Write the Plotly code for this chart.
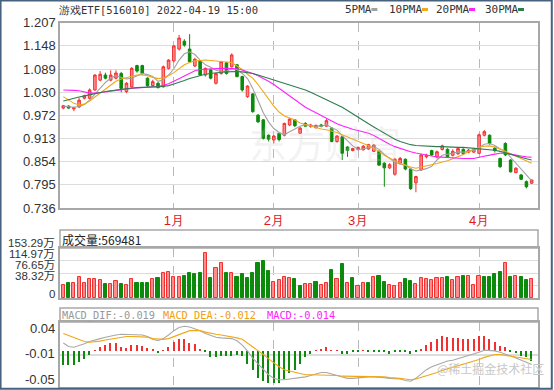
import plotly.graph_objects as go

# ---------------- data ----------------
day_index = list(range(90))
month_ticks = [21, 40, 56, 79]
month_labels = ["1月", "2月", "3月", "4月"]

open_ = [0.990, 0.995, 0.988, 0.993, 1.015, 1.015, 1.036, 1.061, 1.074, 1.061,
         1.066, 1.078, 1.032, 1.044, 1.098, 1.098, 1.066, 1.047, 1.053, 1.044,
         1.091, 1.110, 1.140, 1.160, 1.140, 1.097, 1.110, 1.074, 1.087, 1.053,
         1.078, 1.105, 1.095, 1.100, 1.070, 1.019, 1.026, 0.972, 0.960, 0.921,
         0.909, 0.926, 0.921, 0.947, 0.960, 0.926, 0.951, 0.943, 0.940, 0.947,
         0.944, 0.939, 0.905, 0.917, 0.891, 0.882, 0.885, 0.884, 0.886, 0.880,
         0.880, 0.850, 0.838, 0.822, 0.850, 0.860, 0.835, 0.800, 0.833, 0.866,
         0.882, 0.866, 0.885, 0.885, 0.870, 0.874, 0.885, 0.878, 0.878, 0.875,
         0.921, 0.921, 0.888, 0.862, 0.900, 0.858, 0.826, 0.820, 0.803, 0.799]
high = [0.998, 0.997, 0.993, 1.016, 1.024, 1.040, 1.076, 1.084, 1.080, 1.086,
        1.086, 1.082, 1.056, 1.094, 1.100, 1.100, 1.068, 1.062, 1.056, 1.098,
        1.114, 1.150, 1.176, 1.165, 1.178, 1.118, 1.112, 1.093, 1.090, 1.080,
        1.110, 1.107, 1.129, 1.102, 1.072, 1.048, 1.028, 0.975, 0.962, 0.923,
        0.921, 0.928, 0.953, 0.965, 0.962, 0.942, 0.954, 0.950, 0.948, 0.950,
        0.962, 0.941, 0.921, 0.919, 0.893, 0.889, 0.892, 0.896, 0.899, 0.898,
        0.882, 0.852, 0.850, 0.863, 0.866, 0.862, 0.838, 0.818, 0.873, 0.874,
        0.884, 0.882, 0.897, 0.888, 0.885, 0.890, 0.888, 0.886, 0.889, 0.925,
        0.934, 0.923, 0.892, 0.864, 0.903, 0.860, 0.840, 0.822, 0.806, 0.809]
low = [0.987, 0.988, 0.982, 0.990, 1.012, 1.012, 1.034, 1.058, 1.063, 1.058,
       1.063, 1.030, 1.028, 1.042, 1.080, 1.074, 1.044, 1.044, 1.040, 1.042,
       1.088, 1.106, 1.136, 1.146, 1.105, 1.094, 1.072, 1.070, 1.063, 1.050,
       1.075, 1.075, 1.093, 1.068, 1.032, 1.016, 0.978, 0.952, 0.910, 0.905,
       0.900, 0.905, 0.918, 0.944, 0.942, 0.924, 0.942, 0.940, 0.938, 0.941,
       0.942, 0.903, 0.902, 0.858, 0.866, 0.880, 0.882, 0.882, 0.884, 0.878,
       0.843, 0.790, 0.835, 0.818, 0.846, 0.832, 0.782, 0.776, 0.830, 0.862,
       0.868, 0.862, 0.882, 0.863, 0.867, 0.871, 0.871, 0.875, 0.876, 0.873,
       0.918, 0.897, 0.877, 0.838, 0.868, 0.826, 0.824, 0.807, 0.786, 0.797]
close = [0.996, 0.990, 0.991, 1.010, 1.021, 1.036, 1.074, 1.076, 1.066, 1.074,
         1.079, 1.040, 1.053, 1.091, 1.084, 1.078, 1.047, 1.057, 1.042, 1.095,
         1.112, 1.148, 1.168, 1.150, 1.108, 1.114, 1.074, 1.091, 1.066, 1.078,
         1.108, 1.078, 1.125, 1.070, 1.036, 1.046, 0.981, 0.955, 0.913, 0.911,
         0.919, 0.910, 0.951, 0.962, 0.945, 0.939, 0.944, 0.947, 0.946, 0.944,
         0.958, 0.905, 0.919, 0.875, 0.882, 0.887, 0.890, 0.893, 0.897, 0.896,
         0.845, 0.838, 0.846, 0.860, 0.862, 0.835, 0.785, 0.816, 0.871, 0.870,
         0.871, 0.879, 0.894, 0.866, 0.880, 0.887, 0.874, 0.883, 0.886, 0.922,
         0.930, 0.900, 0.882, 0.841, 0.871, 0.828, 0.837, 0.809, 0.790, 0.807]

ma5 = [0.995, 0.993, 0.992, 0.994, 0.999, 1.010, 1.025, 1.042, 1.055, 1.066,
       1.073, 1.068, 1.064, 1.066, 1.072, 1.078, 1.075, 1.070, 1.058, 1.062,
       1.074, 1.090, 1.112, 1.128, 1.133, 1.126, 1.112, 1.100, 1.094, 1.086,
       1.083, 1.084, 1.090, 1.088, 1.078, 1.065, 1.040, 1.010, 0.978, 0.955,
       0.938, 0.928, 0.922, 0.930, 0.938, 0.944, 0.948, 0.946, 0.944, 0.944,
       0.948, 0.940, 0.934, 0.920, 0.906, 0.894, 0.885, 0.886, 0.890, 0.892,
       0.885, 0.872, 0.862, 0.852, 0.848, 0.845, 0.836, 0.830, 0.833, 0.836,
       0.842, 0.858, 0.870, 0.873, 0.876, 0.878, 0.878, 0.880, 0.882, 0.890,
       0.898, 0.900, 0.895, 0.886, 0.880, 0.865, 0.850, 0.834, 0.818, 0.805]
ma10 = [1.019, 1.010, 1.002, 0.998, 1.000, 1.008, 1.018, 1.028, 1.038, 1.048,
        1.058, 1.064, 1.068, 1.071, 1.074, 1.074, 1.072, 1.068, 1.065, 1.067,
        1.072, 1.080, 1.090, 1.100, 1.106, 1.110, 1.111, 1.112, 1.111, 1.110,
        1.109, 1.108, 1.106, 1.097, 1.088, 1.076, 1.066, 1.050, 1.032, 1.012,
        0.995, 0.980, 0.970, 0.965, 0.960, 0.952, 0.948, 0.945, 0.941, 0.937,
        0.935, 0.932, 0.928, 0.922, 0.916, 0.910, 0.905, 0.900, 0.895, 0.888,
        0.880, 0.870, 0.862, 0.856, 0.850, 0.845, 0.840, 0.837, 0.840, 0.842,
        0.845, 0.849, 0.853, 0.856, 0.861, 0.866, 0.872, 0.879, 0.886, 0.890,
        0.893, 0.894, 0.891, 0.886, 0.880, 0.874, 0.866, 0.860, 0.855, 0.850]
ma20 = [1.036, 1.036, 1.035, 1.034, 1.031, 1.028, 1.028, 1.029, 1.031, 1.033,
        1.035, 1.037, 1.039, 1.040, 1.041, 1.042, 1.043, 1.044, 1.045, 1.048,
        1.052, 1.058, 1.065, 1.072, 1.079, 1.085, 1.088, 1.089, 1.089, 1.090,
        1.091, 1.091, 1.091, 1.090, 1.087, 1.083, 1.078, 1.072, 1.066, 1.058,
        1.050, 1.040, 1.030, 1.020, 1.010, 1.000, 0.992, 0.985, 0.978, 0.970,
        0.962, 0.955, 0.950, 0.945, 0.940, 0.936, 0.933, 0.930, 0.926, 0.920,
        0.912, 0.905, 0.898, 0.892, 0.887, 0.883, 0.879, 0.876, 0.873, 0.870,
        0.868, 0.866, 0.865, 0.864, 0.863, 0.862, 0.862, 0.862, 0.862, 0.865,
        0.868, 0.871, 0.873, 0.875, 0.875, 0.873, 0.870, 0.868, 0.866, 0.865]
ma30 = [1.008, 1.012, 1.015, 1.018, 1.021, 1.024, 1.027, 1.030, 1.032, 1.034,
        1.036, 1.038, 1.040, 1.041, 1.042, 1.043, 1.044, 1.044, 1.044, 1.045,
        1.047, 1.051, 1.055, 1.060, 1.065, 1.069, 1.073, 1.076, 1.078, 1.080,
        1.081, 1.082, 1.083, 1.083, 1.082, 1.080, 1.078, 1.074, 1.070, 1.066,
        1.062, 1.058, 1.054, 1.049, 1.045, 1.041, 1.036, 1.030, 1.024, 1.018,
        1.012, 1.006, 1.000, 0.992, 0.984, 0.975, 0.966, 0.958, 0.950, 0.942,
        0.934, 0.926, 0.918, 0.911, 0.905, 0.901, 0.897, 0.895, 0.894, 0.893,
        0.893, 0.892, 0.892, 0.891, 0.891, 0.890, 0.890, 0.889, 0.888, 0.887,
        0.886, 0.885, 0.883, 0.880, 0.876, 0.872, 0.868, 0.864, 0.861, 0.858]

# volume in 万 (10k shares); direction of each volume bar
volume = [40, 47, 47, 65, 47, 58, 58, 55, 43, 43, 53, 43, 40, 58, 47, 47, 47, 58, 62, 76,
          79, 65, 64, 68, 76, 74, 76, 139, 60, 93, 108, 76, 76, 65, 74, 60, 76, 106, 113, 83,
          50, 55, 65, 60, 57, 37, 43, 43, 50, 40, 47, 86, 57, 103, 47, 60, 38, 47, 47, 63,
          68, 50, 40, 38, 47, 59, 53, 43, 60, 57, 55, 60, 60, 63, 55, 63, 68, 68, 40, 68,
          65, 63, 74, 79, 106, 65, 68, 63, 55, 57]
vol_dir = "RGRRRRRRGRRGRRGGGRGRRRRGGGGRGRRGRGGGGGGGRRRRGGRRGRRGRGRGRRGRGGRRRGGRRRRRRGRRGRRRGGGGRGRGGR"

macd_dif = [0.011, 0.006, 0.005, 0.007, 0.010, 0.013, 0.0146, 0.017, 0.019, 0.021,
            0.022, 0.023, 0.023, 0.023, 0.023, 0.022, 0.020, 0.016, 0.014, 0.017,
            0.022, 0.028, 0.0325, 0.034, 0.033, 0.031, 0.028, 0.024, 0.021, 0.019,
            0.018, 0.017, 0.017, 0.014, 0.008, 0.000, -0.010, -0.018, -0.026, -0.033,
            -0.038, -0.040, -0.040, -0.039, -0.038, -0.038, -0.036, -0.034, -0.032, -0.030,
            -0.030, -0.032, -0.035, -0.037, -0.038, -0.038, -0.037, -0.036, -0.036, -0.036,
            -0.036, -0.037, -0.038, -0.038, -0.039, -0.041, -0.042, -0.038, -0.032, -0.026,
            -0.022, -0.019, -0.016, -0.014, -0.013, -0.011, -0.009, -0.007, -0.004, -0.002,
            0.001, 0.001, 0.000, -0.002, -0.004, -0.007, -0.010, -0.013, -0.016, -0.019]
macd_dea = [0.024, 0.021, 0.018, 0.015, 0.013, 0.012, 0.0125, 0.0135, 0.015, 0.0165,
            0.0175, 0.019, 0.020, 0.020, 0.020, 0.020, 0.019, 0.017, 0.016, 0.016,
            0.017, 0.020, 0.023, 0.026, 0.028, 0.028, 0.028, 0.026, 0.024, 0.023,
            0.022, 0.021, 0.020, 0.018, 0.016, 0.011, 0.005, 0.000, -0.005, -0.011,
            -0.017, -0.022, -0.026, -0.028, -0.030, -0.032, -0.033, -0.033, -0.033, -0.033,
            -0.033, -0.033, -0.034, -0.035, -0.035, -0.0355, -0.036, -0.036, -0.036, -0.036,
            -0.036, -0.036, -0.037, -0.037, -0.038, -0.039, -0.040, -0.039, -0.037, -0.035,
            -0.032, -0.030, -0.027, -0.025, -0.023, -0.020, -0.018, -0.016, -0.0145, -0.012,
            -0.009, -0.007, -0.005, -0.005, -0.006, -0.007, -0.008, -0.009, -0.011, -0.012]
macd_hist = [-0.020, -0.020, -0.019, -0.016, -0.011, -0.006, 0.001, 0.005, 0.008, 0.011,
             0.011, 0.005, 0.004, 0.008, 0.008, 0.007, 0.004, 0.002, -0.003, 0.001,
             0.006, 0.013, 0.017, 0.017, 0.011, 0.009, 0.002, -0.002, -0.009, -0.009,
             -0.007, -0.007, -0.007, -0.006, -0.007, -0.018, -0.027, -0.038, -0.042, -0.045,
             -0.045, -0.045, -0.039, -0.030, -0.027, -0.018, -0.009, -0.004, 0.001, 0.002,
             0.005, 0.001, 0.0005, -0.004, -0.004, -0.002, -0.001, 0.001, -0.001, -0.0005,
             -0.002, -0.001, -0.004, -0.002, -0.001, -0.002, -0.004, -0.001, 0.003, 0.0085,
             0.0125, 0.0165, 0.020, 0.019, 0.018, 0.018, 0.017, 0.016, 0.016, 0.020,
             0.021, 0.017, 0.0125, 0.007, 0.005, -0.001, -0.003, -0.007, -0.009, -0.014]

price_ticks = [0.736, 0.795, 0.854, 0.913, 0.972, 1.030, 1.089, 1.148, 1.207]
price_labels = ["0.736", "0.795", "0.854", "0.913", "0.972", "1.030", "1.089", "1.148", "1.207"]
vol_ticks = [0, 38.32, 76.65, 114.97, 153.29]
vol_labels = ["0", "38.32万", "76.65万", "114.97万", "153.29万"]
macd_ticks = [-0.05, -0.005, 0.04]
macd_labels = ["-0.05", "-0.01", "0.04"]

# ---------------- styling ----------------
W, H = 554, 390
RED, RED_FILL = "#f23030", "#ff8c8c"
GREEN = "#0b8a0b"
C5, C10, C20, C30 = "#a0a0a0", "#f0a818", "#ff20ff", "#2e7d50"
FRAME = "#a8a8a8"
GRID = "#dcdcdc"
NUM_FONT = "Liberation Sans, Arial, sans-serif"
MONO = "DejaVu Sans Mono, monospace"


def px_x(p):
    return p / W


def px_y(p):
    return 1 - p / H


XDOM = [px_x(60), px_x(538)]
XR = [-0.63, 90.2]

fig = go.Figure()

fig.add_trace(go.Candlestick(
    x=day_index, open=open_, high=high, low=low, close=close,
    increasing=dict(line=dict(color=RED, width=1), fillcolor=RED_FILL),
    decreasing=dict(line=dict(color=GREEN, width=1), fillcolor=GREEN),
    whiskerwidth=0, xaxis="x", yaxis="y", showlegend=False, hoverinfo="skip"))

for vals, col in [(ma5, C5), (ma10, C10), (ma20, C20), (ma30, C30)]:
    fig.add_trace(go.Scatter(x=day_index, y=vals, mode="lines",
                             line=dict(color=col, width=1.1),
                             xaxis="x", yaxis="y", showlegend=False, hoverinfo="skip"))

vol_fill = [RED_FILL if d == "R" else GREEN for d in vol_dir]
vol_line = [RED if d == "R" else GREEN for d in vol_dir]
fig.add_trace(go.Bar(x=day_index, y=volume, width=0.6,
                     marker=dict(color=vol_fill, line=dict(color=vol_line, width=1)),
                     xaxis="x2", yaxis="y2", showlegend=False, hoverinfo="skip"))

hist_col = [RED if v >= 0 else GREEN for v in macd_hist]
fig.add_trace(go.Bar(x=day_index, y=macd_hist, width=0.28,
                     marker=dict(color=hist_col, line=dict(width=0)),
                     xaxis="x3", yaxis="y3", showlegend=False, hoverinfo="skip"))
fig.add_trace(go.Scatter(x=day_index, y=macd_dif, mode="lines",
                         line=dict(color="#a8a8a8", width=1.1),
                         xaxis="x3", yaxis="y3", showlegend=False, hoverinfo="skip"))
fig.add_trace(go.Scatter(x=day_index, y=macd_dea, mode="lines",
                         line=dict(color=C10, width=1.1),
                         xaxis="x3", yaxis="y3", showlegend=False, hoverinfo="skip"))

xcommon = dict(range=XR, domain=XDOM, tickvals=month_ticks, showgrid=True,
               gridcolor="#b8b8b8", griddash="dash", gridwidth=1, zeroline=False,
               showline=True, mirror=True, linecolor=FRAME, linewidth=1.5,
               ticks="", automargin=False)

fig.update_layout(
    width=W, height=H, margin=dict(l=0, r=0, t=0, b=0),
    paper_bgcolor="white", plot_bgcolor="white",
    xaxis=dict(**xcommon, ticktext=month_labels, showticklabels=True,
               tickfont=dict(color="#e01818", size=13, family=NUM_FONT),
               ticklabelstandoff=0,
               anchor="y", rangeslider=dict(visible=False)),
    yaxis=dict(domain=[px_y(208), px_y(22.7)], range=[0.736, 1.207],
               tickvals=price_ticks, ticktext=price_labels, showgrid=True,
               gridcolor=GRID, gridwidth=1, zeroline=False, ticks="",
               tickfont=dict(color="#333", size=13, family=NUM_FONT),
               showline=True, mirror=True, linecolor=FRAME, linewidth=1.5,
               anchor="x", automargin=False),
    xaxis2=dict(**xcommon, showticklabels=False, anchor="y2", matches="x"),
    yaxis2=dict(domain=[px_y(298), px_y(248)], range=[0, 153.29],
                tickvals=vol_ticks, showticklabels=False, showgrid=True,
                gridcolor=GRID, zeroline=False, ticks="",
                showline=True, mirror=True, linecolor=FRAME, linewidth=1.5,
                anchor="x2", automargin=False),
    xaxis3=dict(**xcommon, showticklabels=False, anchor="y3", matches="x"),
    yaxis3=dict(domain=[px_y(387), px_y(322)], range=[-0.05, 0.04],
                tickvals=[-0.005], showticklabels=False, showgrid=True,
                gridcolor=GRID, gridwidth=1.5, zeroline=False, ticks="",
                showline=True, mirror=True, linecolor=FRAME, linewidth=1.5,
                anchor="x3", automargin=False),
    bargap=0,
)

shapes = []
# header boxes for volume and MACD panels
for top, bot in [(230, 248), (308, 322)]:
    shapes.append(dict(type="rect", xref="paper", yref="paper",
                       x0=XDOM[0], x1=XDOM[1], y0=px_y(bot), y1=px_y(top),
                       line=dict(color=FRAME, width=1.5), fillcolor="rgba(0,0,0,0)"))
# outer border of the picture
shapes.append(dict(type="rect", xref="paper", yref="paper", x0=0.001, x1=0.996,
                   y0=0.003, y1=0.999, line=dict(color="#47627f", width=2)))
# legend swatches
legend_items = [("5PMA", 343, C5), ("10PMA", 387, C10), ("20PMA", 434, C20), ("30PMA", 483, C30)]
annotations = []
for name, x0, col in legend_items:
    annotations.append(dict(text=name, x=px_x(x0), y=px_y(9.5), xref="paper", yref="paper",
                            xanchor="left", yanchor="middle", showarrow=False,
                            font=dict(family=MONO, size=11, color="#333")))
    wpx = 6.6 * len(name)
    shapes.append(dict(type="line", xref="paper", yref="paper",
                       x0=px_x(x0 + wpx + 2), x1=px_x(x0 + wpx + 8),
                       y0=px_y(9.5), y1=px_y(9.5), line=dict(color=col, width=3)))

annotations.append(dict(text="游戏ETF[516010] 2022-04-19 15:00", x=px_x(57), y=px_y(9.5),
                        xref="paper", yref="paper", xanchor="left", yanchor="middle",
                        showarrow=False, font=dict(family=MONO, size=10.5, color="#333")))
annotations.append(dict(text="成交量:569481", x=px_x(60), y=px_y(239.5),
                        xref="paper", yref="paper", xanchor="left", yanchor="middle",
                        showarrow=False, font=dict(family="Noto Sans CJK SC, sans-serif",
                                                   size=12, color="#222")))
for txt, x0, col in [("MACD_DIF:-0.019", 60, "#999"), ("MACD_DEA:-0.012", 161, "#f0a010"),
                     ("MACD:-0.014", 265, "#ff20ff")]:
    annotations.append(dict(text=txt, x=px_x(x0), y=px_y(315), xref="paper", yref="paper",
                            xanchor="left", yanchor="middle", showarrow=False,
                            font=dict(family=MONO, size=10.3, color=col)))
# volume axis labels (stacked as in the picture)
for lab, ypx in zip(vol_labels, [293.5, 276, 265, 254, 243]):
    annotations.append(dict(text=lab, x=px_x(57), y=px_y(ypx), xref="paper", yref="paper",
                            xanchor="right", yanchor="middle", showarrow=False,
                            font=dict(family="Liberation Sans, Noto Sans CJK SC, sans-serif",
                                      size=11.5, color="#333")))
for lab, ypx in zip(macd_labels, [379.5, 353.5, 328.5]):
    annotations.append(dict(text=lab, x=px_x(57), y=px_y(ypx), xref="paper", yref="paper",
                            xanchor="right", yanchor="middle", showarrow=False,
                            font=dict(family=NUM_FONT, size=13, color="#333")))
# watermarks
annotations.append(dict(text="东方财富", x=px_x(325), y=px_y(112), xref="paper", yref="paper",
                        showarrow=False, font=dict(family="Noto Sans CJK SC", size=38,
                                                   color="rgba(200,200,200,0.22)")))
annotations.append(dict(text="@稀土掘金技术社区", x=px_x(546), y=px_y(379), xref="paper",
                        yref="paper", xanchor="right", showarrow=False,
                        font=dict(family="Noto Sans CJK SC", size=12, color="#c8c8c8")))

fig.update_layout(shapes=shapes, annotations=annotations)
fig.write_html("out.html", config={"displayModeBar": False},
               post_script="document.body.style.margin='0';document.body.style.padding='0';")
